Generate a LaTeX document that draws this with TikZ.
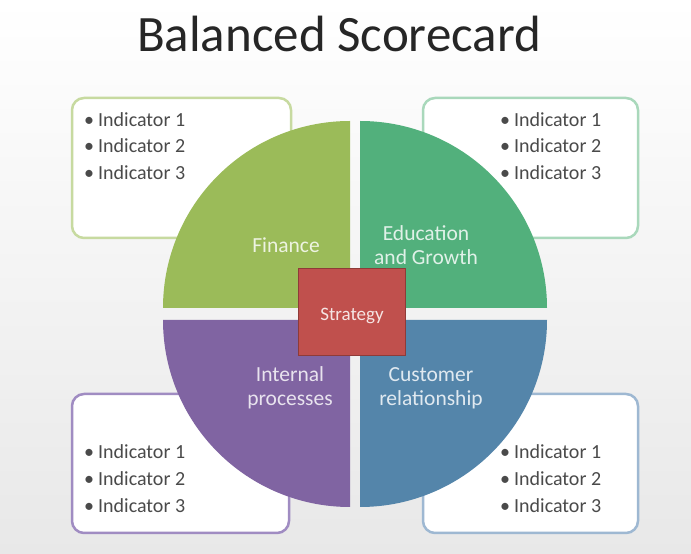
\documentclass[tikz,border=0pt]{standalone}
\usepackage{fontspec}
\setmainfont{Carlito}
\definecolor{fin}{HTML}{9BBB59}
\definecolor{edu}{HTML}{52B07C}
\definecolor{ipr}{HTML}{8064A2}
\definecolor{cus}{HTML}{5485AA}
\definecolor{strat}{HTML}{C0504D}
\definecolor{stratb}{HTML}{8E3B38}
\definecolor{finb}{HTML}{C7DAA0}
\definecolor{edub}{HTML}{A9D8BB}
\definecolor{iprb}{HTML}{A08CC2}
\definecolor{cusb}{HTML}{9EB8D2}
\definecolor{txt}{HTML}{4A4A4A}
\begin{document}
\begin{tikzpicture}[x=1pt,y=1pt,
  indbox/.style={draw,line width=2.5pt,fill=white,rounded corners=12pt},
  indtext/.style={anchor=base west,inner sep=0pt,text=txt,font=\fontsize{20}{22}\selectfont},
  qlabel/.style={align=center,inner sep=0pt,font=\fontsize{21.5}{24}\selectfont},
]
\useasboundingbox (0,0) rectangle (691,554);
\shade[top color=white,bottom color=black!9] (0,0) rectangle (691,554);
% title
\node[anchor=base,inner sep=0pt,font=\fontsize{51}{54}\selectfont,text=black!85] (title) at (339,502) {Balanced Scorecard};
% indicator boxes
\draw[indbox,draw=finb] (72,316) rectangle (291,456);
\draw[indbox,draw=edub] (423,316) rectangle (638,456);
\draw[indbox,draw=iprb] (72,21) rectangle (289,160);
\draw[indbox,draw=cusb] (423,21) rectangle (638,160);
\foreach \i/\y in {1/427,2/401,3/374}{
  \node[indtext] (tl\i) at (84,\y) {\textbullet\hspace{4pt}Indicator \i};
  \node[indtext] (tr\i) at (500,\y) {\textbullet\hspace{4pt}Indicator \i};
}
\foreach \i/\y in {1/95,2/68,3/41}{
  \node[indtext] (bl\i) at (84,\y) {\textbullet\hspace{4pt}Indicator \i};
  \node[indtext] (br\i) at (500,\y) {\textbullet\hspace{4pt}Indicator \i};
}
% quadrants
\fill[fin] (350,246) -- ++(-187,0) arc[start angle=180,end angle=90,radius=187] -- cycle;
\fill[edu] (360,246) -- ++(0,187) arc[start angle=90,end angle=0,radius=187] -- cycle;
\fill[ipr] (350,234) -- ++(0,-187) arc[start angle=270,end angle=180,radius=187] -- cycle;
\fill[cus] (360,234) -- ++(187,0) arc[start angle=0,end angle=-90,radius=187] -- cycle;
\node[qlabel,text=white!82!fin] (finance) at (286,309) {Finance};
\node[qlabel,text=white!82!edu] (education) at (426,309) {Education\\and Growth};
\node[qlabel,text=white!82!ipr] (internal) at (290,166) {Internal\\processes};
\node[qlabel,text=white!82!cus] (customer) at (431,166) {Customer\\relationship};
% strategy
\node[draw=stratb,line width=1.8pt,fill=strat,minimum width=107pt,minimum height=87pt,inner sep=0pt] (strategy) at (352,242) {};
\node[text=white!85!strat,font=\fontsize{19}{20}\selectfont,inner sep=0pt] (strategytext) at (352,238) {Strategy};
\end{tikzpicture}
\end{document}
